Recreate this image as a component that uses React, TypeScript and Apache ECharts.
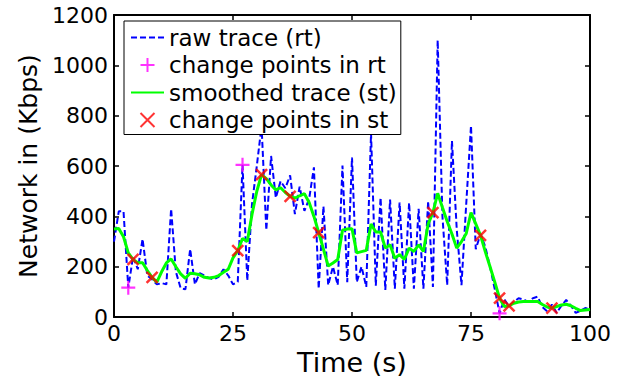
import React, { useEffect, useRef } from "react";
import * as echarts from "echarts";

// Time axis: one sample per second, 0..100 s
const rawTrace = [
  300, 420, 420, 117, 240, 190, 310, 165, 150, 130,
  135, 130, 430, 180, 115, 110, 270, 130, 175, 165,
  155, 150, 160, 190, 165, 130, 140, 605, 145, 450,
  600, 760, 345, 640, 474, 540, 512, 563, 409, 518,
  422, 470, 595, 113, 440, 127, 200, 127, 602, 139,
  634, 139, 200, 120, 730, 125, 474, 108, 467, 113,
  455, 113, 454, 113, 430, 113, 460, 120, 1100, 400,
  127, 700, 350, 127, 450, 760, 270, 330, 280, 200,
  110, 15, 70, 42, 60, 75, 70, 60, 75, 81,
  40, 23, 50, 17, 45, 68, 45, 17, 25, 36,
  30,
];

const smoothedTrace = [
  350, 352, 319, 255, 229, 216, 216, 185, 158, 139,
  180, 215, 231, 200, 172, 154, 174, 172, 168, 158,
  155, 158, 165, 178, 190, 235, 264, 312, 300, 409,
  500, 566, 550, 525, 505, 514, 495, 480, 473, 482,
  490, 455, 400, 336, 270, 203, 215, 229, 345, 350,
  351, 255, 260, 265, 370, 338, 338, 274, 287, 233,
  248, 229, 274, 261, 287, 261, 370, 415, 492, 435,
  380, 330, 274, 300, 332, 415, 370, 325, 260, 200,
  139, 75, 42, 45, 55, 60, 62, 62, 62, 62,
  50, 40, 36, 42, 48, 51, 45, 35, 26, 28,
  30,
];

const cpRtTime = [3, 27, 81];
const cpRtValue = [117, 605, 15];

const cpStTime = [4, 8, 26, 31, 37, 43, 67, 77, 81, 83, 92];
const cpStValue = [229, 158, 264, 566, 480, 336, 415, 325, 75, 45, 36];

const seriesNames = [
  "raw trace (rt)",
  "change points in rt",
  "smoothed trace (st)",
  "change points in st",
];

const xName = "Time (s)";
const yName = "Network in (Kbps)";

const FONT = "DejaVu Sans, Liberation Sans, Arial, sans-serif";

export default function App() {
  const ref = useRef<HTMLDivElement>(null);

  useEffect(() => {
    if (!ref.current) return;
    const chart = echarts.init(ref.current, undefined, { renderer: "svg" });

    const axisLine = { show: true, onZero: false, lineStyle: { color: "#000", width: 2 } };
    const axisTick = { show: true, inside: true, length: 5, lineStyle: { color: "#000", width: 1.5 } };
    const plain = (v: number) => String(v);

    chart.setOption({
      animation: false,
      backgroundColor: "#fff",
      textStyle: { fontFamily: FONT },
      grid: { left: 114, right: 35, top: 15, bottom: 55, containLabel: false },
      legend: {
        orient: "vertical",
        left: 124,
        top: 21,
        padding: [5, 4, 3, 6],
        itemWidth: 33,
        itemHeight: 14,
        itemGap: 4.5,
        borderColor: "#000",
        borderWidth: 1,
        backgroundColor: "#fff",
        textStyle: { fontSize: 23, color: "#000", fontFamily: FONT, lineHeight: 22 },
        data: [
          { name: seriesNames[0], itemStyle: { opacity: 0 } },
          { name: seriesNames[1] },
          { name: seriesNames[2], itemStyle: { opacity: 0 } },
          { name: seriesNames[3] },
        ],
      },
      xAxis: [
        {
          type: "value",
          min: 0,
          max: 100,
          interval: 25,
          position: "bottom",
          axisLine,
          axisTick,
          splitLine: { show: false },
          axisLabel: { fontSize: 22, color: "#000", margin: 5, fontFamily: FONT, formatter: plain },
          name: xName,
          nameLocation: "middle",
          nameGap: 26,
          nameTextStyle: { fontSize: 27, color: "#000", fontFamily: FONT },
        },
        {
          type: "value",
          min: 0,
          max: 100,
          interval: 25,
          position: "top",
          axisLine,
          axisTick,
          splitLine: { show: false },
          axisLabel: { show: false },
        },
      ],
      yAxis: [
        {
          type: "value",
          min: 0,
          max: 1200,
          interval: 200,
          position: "left",
          axisLine,
          axisTick,
          splitLine: { show: false },
          axisLabel: { fontSize: 22, color: "#000", margin: 6, fontFamily: FONT, formatter: plain },
          name: yName,
          nameLocation: "middle",
          nameGap: 72,
          nameTextStyle: { fontSize: 25, color: "#000", fontFamily: FONT },
        },
        {
          type: "value",
          min: 0,
          max: 1200,
          interval: 200,
          position: "right",
          axisLine,
          axisTick,
          splitLine: { show: false },
          axisLabel: { show: false },
        },
      ],
      series: [
        {
          name: seriesNames[0],
          type: "line",
          data: rawTrace.map((v, i) => [i, v]),
          symbol: "none",
          lineStyle: { color: "#0000ff", width: 2, type: [6, 3] },
          itemStyle: { color: "#0000ff" },
          z: 2,
        },
        {
          name: seriesNames[1],
          type: "scatter",
          data: cpRtTime.map((t, i) => [t, cpRtValue[i]]),
          symbol: "path://M0,-10 L0,10 M-10,0 L10,0",
          symbolSize: 14,
          itemStyle: { color: "none", borderColor: "#ff00ff", borderWidth: 2.2 },
          z: 3,
        },
        {
          name: seriesNames[2],
          type: "line",
          data: smoothedTrace.map((v, i) => [i, v]),
          symbol: "none",
          lineStyle: { color: "#00ff00", width: 3 },
          itemStyle: { color: "#00ff00" },
          z: 4,
        },
        {
          name: seriesNames[3],
          type: "scatter",
          data: cpStTime.map((t, i) => [t, cpStValue[i]]),
          symbol: "path://M-10,-10 L10,10 M-10,10 L10,-10",
          symbolSize: 11,
          itemStyle: { color: "none", borderColor: "#ff0000", borderWidth: 2.5 },
          z: 5,
        },
      ],
    });

    return () => chart.dispose();
  }, []);

  return (
    <div
      ref={ref}
      style={{ position: "fixed", left: 0, top: 0, width: 625, height: 381 }}
    />
  );
}
